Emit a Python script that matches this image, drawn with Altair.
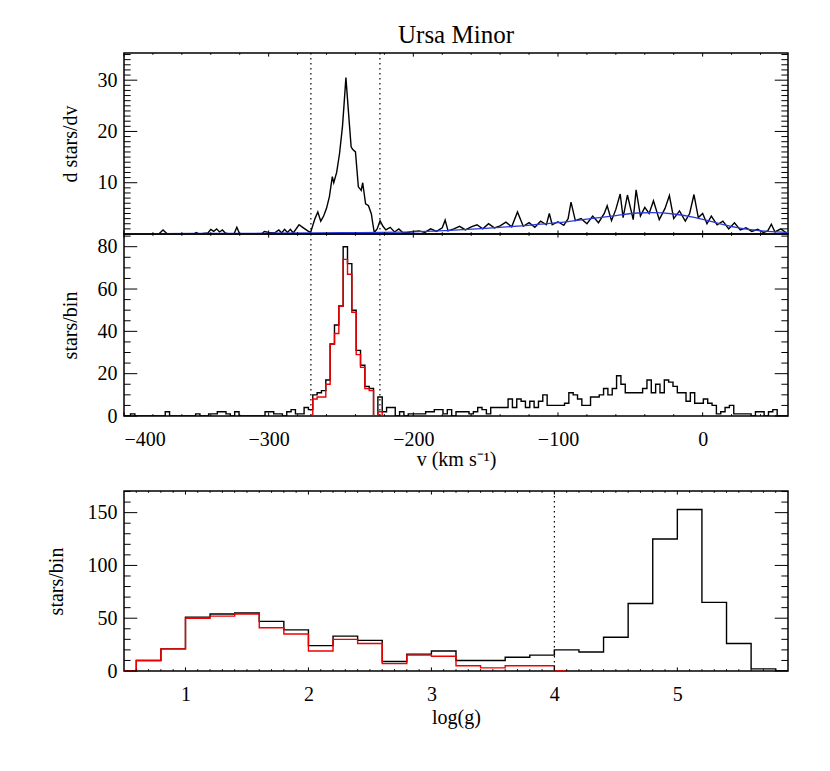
import altair as alt
import pandas as pd

FONT = "Liberation Serif"
W = 664
H_TOP = 181
H_MID = 182
H_BOT = 180
GAP = 75

# ---------------- data ----------------
# top panel: smoothed density d stars/dv, (v, value) pairs
top_pts = [(-400, 0), (-376, 0), (-373, 0.8), (-370, 0), (-352, 0), (-350, 0.3), (-348, 0),
           (-342, 0.2), (-340, 0.9), (-338, 0.5), (-336, 1.0), (-334, 0.4), (-332, 0.8),
           (-330, 0.2), (-328, 0), (-324, 0), (-322, 1.3), (-320, 0), (-305, 0), (-303, 0.5),
           (-300, 0.3), (-296, 0.2), (-293, 0.8), (-291, 0.2), (-289, 0.9), (-287, 0.3),
           (-285, 0.9), (-283, 0.2), (-279, 1.8), (-276, 1.2), (-273, 0.6), (-271, 0.3),
           (-268, 3.0), (-266, 4.3), (-264, 2.5), (-262, 3.5), (-260, 5.0), (-258, 7.3),
           (-256, 11.2), (-255, 10.0), (-253, 12.0), (-251, 15.7), (-249, 20.9), (-248, 24.8),
           (-246.6, 30.5), (-245, 24.4), (-243, 17.0), (-242, 16.5), (-240, 16.0), (-238, 9.2),
           (-236, 8.5), (-235, 10.0), (-233, 5.9), (-231, 5.5), (-229, 3.9), (-228, 2.0),
           (-227, 0.3), (-225, 1.0), (-223, 2.6), (-221, 1.5), (-219, 0.8), (-216, 1.3),
           (-213, 0.4), (-210, 1.0), (-207, 0.2), (-204, 0.3), (-200, 0.5), (-196, 0.6),
           (-192, 0.3), (-188, 1.0), (-184, 0.5), (-180, 1.2), (-178, 2.7), (-176, 0.6),
           (-172, 1.0), (-168, 1.5), (-164, 0.8), (-160, 1.4), (-156, 1.8), (-152, 1.0),
           (-148, 2.0), (-144, 1.2), (-140, 1.6), (-136, 2.3), (-132, 1.4), (-128, 4.3),
           (-124, 1.5), (-120, 2.2), (-116, 1.3), (-112, 2.5), (-108, 1.8), (-106, 4.0),
           (-104, 1.8), (-100, 2.4), (-96, 1.7), (-93, 3.0), (-91, 6.2), (-88, 2.6),
           (-84, 3.0), (-80, 2.0), (-76, 3.5), (-72, 2.2), (-68, 4.0), (-66, 5.5), (-63, 2.6),
           (-60, 4.8), (-57, 7.8), (-55, 3.2), (-52, 7.6), (-48, 2.8), (-46, 8.6), (-43, 3.5),
           (-40, 5.2), (-37, 4.0), (-34, 6.5), (-30, 2.8), (-26, 5.0), (-23, 7.5), (-20, 3.0),
           (-16, 4.5), (-12, 2.5), (-9, 4.0), (-6, 7.7), (-3, 3.2), (0, 4.0), (3, 2.0),
           (6, 3.5), (10, 1.8), (14, 2.5), (18, 1.0), (22, 2.2), (26, 0.8), (30, 1.2),
           (34, 0.5), (38, 0.9), (42, 0.3), (45, 0.6), (47.5, 1.9), (50, 0.4), (54, 1.0),
           (58, 0.2), (59, 0.3)]
bg_v = [-400, -350, -300, -250, -200, -175, -150, -125, -100, -80, -60, -45, -35, -20, -5, 5,
        15, 25, 35, 45, 59]
bg_d = [0.05, 0.1, 0.15, 0.25, 0.4, 0.7, 1.1, 1.6, 2.2, 2.9, 3.6, 4.1, 4.15, 3.9, 3.2, 2.5,
        1.8, 1.2, 0.8, 0.5, 0.3]

# middle panel: velocity histogram, bin centres every 3 km/s from -400
mid_bin_start = -400.0
mid_bin_width = 3.0
mid_all = [0, 0, 1, 0, 0, 0, 0, 0, 0, 0,    # -400 .. -373
           2, 0, 0, 0, 0, 0, 0, 1, 0, 0,    # -370 .. -343
           1, 1, 2, 2, 1, 0, 2, 0, 0, 0,    # -340 .. -313
           0, 0, 0, 2, 2, 1, 1, 0, 2, 3,    # -310 .. -283
           1, 1, 4, 3, 10, 11, 12, 17, 34, 43,   # -280 .. -253
           52, 80, 72, 50, 31, 24, 14, 13, 0, 9,  # -250 .. -223
           2, 4, 4, 0, 2, 0, 1, 1, 1, 1,    # -220 .. -193
           2, 2, 3, 3, 1, 3, 0, 2, 2, 2,    # -190 .. -163
           1, 2, 4, 3, 1, 4, 4, 4, 4, 8,    # -160 .. -133
           4, 8, 7, 4, 7, 4, 7, 10, 5, 5,   # -130 .. -103
           5, 5, 6, 11, 10, 8, 5, 5, 9, 9,  # -100 .. -73
           10, 13, 10, 13, 19, 15, 11, 11, 11, 11,  # -70 .. -43
           13, 17, 11, 15, 11, 17, 16, 14, 11, 11,  # -40 .. -13
           7, 11, 6, 6, 8, 6, 5, 1, 2, 4,   # -10 .. 17
           5, 1, 1, 1, 1, 0, 2, 2, 0, 2,    # 20 .. 47
           3, 0, 0, 0]                      # 50 .. 59
mid_sel_start = -271.0
mid_sel = [0, 8, 9, 9, 15, 34, 39, 52, 74, 67, 49, 29, 23, 13, 12, 0, 2, 0]

# bottom panel: log(g) histogram, bin centres every 0.2 from 0.5
g_centers = [0.5, 0.7, 0.9, 1.1, 1.3, 1.5, 1.7, 1.9, 2.1, 2.3, 2.5, 2.7, 2.9, 3.1, 3.3, 3.5,
             3.7, 3.9, 4.1, 4.3, 4.5, 4.7, 4.9, 5.1, 5.3, 5.5, 5.7, 5.9]
g_all = [0, 10, 21, 51, 54, 55, 47, 39, 24, 33, 29, 9, 16, 19, 10, 10,
         13, 15, 20, 18, 32, 64, 125, 153, 65, 26, 2, 0]
g_sel = [0, 10, 21, 50, 52, 54, 41, 35, 19, 30, 26, 7, 15, 14, 5, 3,
         5, 5, 0]

v_cuts = [-270.8, -223.1]
g_cut = [4.0]

# axis tick values
v_major = [-400, -300, -200, -100, 0]
v_minor = [-380, -360, -340, -320, -280, -260, -240, -220, -180, -160, -140, -120,
           -80, -60, -40, -20, 20, 40]
top_y_major = [10, 20, 30]
top_y_minor = [1, 2, 3, 4, 5, 6, 7, 8, 9, 11, 12, 13, 14, 15, 16, 17, 18, 19,
               21, 22, 23, 24, 25, 26, 27, 28, 29, 31, 32, 33, 34, 35]
mid_y_major = [0, 20, 40, 60, 80]
mid_y_minor = [5, 10, 15, 25, 30, 35, 45, 50, 55, 65, 70, 75, 85]
g_major = [1, 2, 3, 4, 5]
g_minor = [0.6, 0.7, 0.8, 0.9, 1.1, 1.2, 1.3, 1.4, 1.5, 1.6, 1.7, 1.8, 1.9,
           2.1, 2.2, 2.3, 2.4, 2.5, 2.6, 2.7, 2.8, 2.9, 3.1, 3.2, 3.3, 3.4, 3.5, 3.6, 3.7, 3.8, 3.9,
           4.1, 4.2, 4.3, 4.4, 4.5, 4.6, 4.7, 4.8, 4.9, 5.1, 5.2, 5.3, 5.4, 5.5, 5.6, 5.7, 5.8]
bot_y_major = [0, 50, 100, 150]
bot_y_minor = [10, 20, 30, 40, 60, 70, 80, 90, 110, 120, 130, 140, 160, 170]

# ---------------- scales & axes ----------------
xs_v = alt.Scale(domain=[-400, 59], nice=False, zero=False)
ys_top = alt.Scale(domain=[0, 35.3], nice=False, zero=False)
ys_mid = alt.Scale(domain=[0, 86], nice=False, zero=False)
xs_g = alt.Scale(domain=[0.5, 5.9], nice=False, zero=False)
ys_bot = alt.Scale(domain=[0, 170.5], nice=False, zero=False)

LABEL = dict(labelFont=FONT, labelFontSize=20, labelColor="black", titleFont=FONT,
             titleFontSize=20, titleFontWeight="normal", titleColor="black",
             ticks=False, domain=False, grid=False)


def yaxis(vals, title, tpad):
    return alt.Axis(values=vals, title=title, labelPadding=7, titlePadding=tpad, **LABEL)


def xaxis(vals, title, lpad, tpad):
    return alt.Axis(values=vals, title=title, labelPadding=lpad, titlePadding=tpad, **LABEL)


def tick_rules(vals, chan, scale, ax, side, length, w, h):
    df = pd.DataFrame({"t": vals})
    base = alt.Chart(df).mark_rule(color="black", strokeWidth=1)
    if chan == "x":
        pos = alt.X("t:Q", scale=scale, axis=ax)
        if side == "bottom":
            return base.encode(x=pos, y=alt.value(h), y2=alt.value(h - length))
        return base.encode(x=pos, y=alt.value(0), y2=alt.value(length))
    pos = alt.Y("t:Q", scale=scale, axis=ax)
    if side == "left":
        return base.encode(y=pos, x=alt.value(0), x2=alt.value(length))
    return base.encode(y=pos, x=alt.value(w), x2=alt.value(w - length))


def frame(xmaj, xmin, xsc, xax, ymaj, ymin, ysc, yax, w, h):
    xl = 0.02 * h
    yl = 0.02 * w
    out = []
    for side in ("bottom", "top"):
        out.append(tick_rules(xmaj, "x", xsc, xax, side, xl, w, h))
        out.append(tick_rules(xmin, "x", xsc, xax, side, xl / 2, w, h))
    for side in ("left", "right"):
        out.append(tick_rules(ymaj, "y", ysc, yax, side, yl, w, h))
        out.append(tick_rules(ymin, "y", ysc, yax, side, yl / 2, w, h))
    return out


def cut_lines(vals, scale, ax):
    return alt.Chart(pd.DataFrame({"c": vals})).mark_rule(
        color="black", strokeWidth=1.2, strokeDash=[1.5, 3.5]
    ).encode(x=alt.X("c:Q", scale=scale, axis=ax))

# ---------------- top panel ----------------
ax_top_x = None
ax_top_y = yaxis(top_y_major, "d stars/dv", 17)
df_top = pd.DataFrame(top_pts, columns=["v", "d"])
df_bg = pd.DataFrame({"v": bg_v, "d": bg_d})
top_line = alt.Chart(df_top).mark_line(color="black", strokeWidth=1.4, clip=True).encode(
    x=alt.X("v:Q", scale=xs_v, axis=ax_top_x),
    y=alt.Y("d:Q", scale=ys_top, axis=ax_top_y),
)
bg_line = alt.Chart(df_bg).mark_line(color="#2a3ad8", strokeWidth=1.3, interpolate="monotone",
                                     clip=True).encode(
    x=alt.X("v:Q", scale=xs_v, axis=ax_top_x),
    y=alt.Y("d:Q", scale=ys_top, axis=ax_top_y),
)
top = alt.layer(
    top_line, bg_line, cut_lines(v_cuts, xs_v, ax_top_x),
    *frame(v_major, v_minor, xs_v, ax_top_x, top_y_major, top_y_minor, ys_top, ax_top_y,
           W, H_TOP)
).properties(
    width=W, height=H_TOP,
    title=alt.TitleParams("Ursa Minor", font=FONT, fontSize=25, fontWeight="normal",
                          color="black", offset=4, frame="group", anchor="middle"),
)

# ---------------- middle panel ----------------
ax_mid_x = xaxis(v_major, "v (km s\u207b\u00b9)", 13, 0)
ax_mid_y = yaxis(mid_y_major, "stars/bin", 17)
mid_v = [mid_bin_start + mid_bin_width * i for i in range(len(mid_all))]
sel_v = [mid_sel_start + mid_bin_width * i for i in range(len(mid_sel))]
df_mid = pd.DataFrame({"v": mid_v, "n": mid_all})
df_sel = pd.DataFrame({"v": sel_v, "n": mid_sel})
mid_black = alt.Chart(df_mid).mark_line(color="black", strokeWidth=1.4, interpolate="step",
                                        clip=True).encode(
    x=alt.X("v:Q", scale=xs_v, axis=ax_mid_x),
    y=alt.Y("n:Q", scale=ys_mid, axis=ax_mid_y),
)
mid_red = alt.Chart(df_sel).mark_line(color="#ee0000", strokeWidth=1.4, interpolate="step",
                                      clip=True).encode(
    x=alt.X("v:Q", scale=xs_v, axis=ax_mid_x),
    y=alt.Y("n:Q", scale=ys_mid, axis=ax_mid_y),
)
mid = alt.layer(
    mid_black, mid_red, cut_lines(v_cuts, xs_v, ax_mid_x),
    *frame(v_major, v_minor, xs_v, ax_mid_x, mid_y_major, mid_y_minor, ys_mid, ax_mid_y,
           W, H_MID)
).properties(width=W, height=H_MID)

# ---------------- spacer ----------------
spacer = alt.Chart(pd.DataFrame({"a": [0]})).mark_point(opacity=0).encode(
    x=alt.X("a:Q", axis=None), y=alt.Y("a:Q", axis=None)
).properties(width=W, height=GAP, view=alt.ViewBackground(strokeOpacity=0))

# ---------------- bottom panel ----------------
ax_bot_x = xaxis(g_major, "log(g)", 13, 3)
ax_bot_y = yaxis(bot_y_major, "stars/bin", 21)
df_g = pd.DataFrame({"g": g_centers, "n": g_all})
df_gs = pd.DataFrame({"g": g_centers[:len(g_sel)], "n": g_sel})
bot_black = alt.Chart(df_g).mark_line(color="black", strokeWidth=1.4, interpolate="step",
                                      clip=True).encode(
    x=alt.X("g:Q", scale=xs_g, axis=ax_bot_x),
    y=alt.Y("n:Q", scale=ys_bot, axis=ax_bot_y),
)
bot_red = alt.Chart(df_gs).mark_line(color="#ee0000", strokeWidth=1.4, interpolate="step",
                                     clip=True).encode(
    x=alt.X("g:Q", scale=xs_g, axis=ax_bot_x),
    y=alt.Y("n:Q", scale=ys_bot, axis=ax_bot_y),
)
bot = alt.layer(
    bot_black, bot_red, cut_lines(g_cut, xs_g, ax_bot_x),
    *frame(g_major, g_minor, xs_g, ax_bot_x, bot_y_major, bot_y_minor, ys_bot, ax_bot_y,
           W, H_BOT)
).properties(width=W, height=H_BOT)

chart = alt.vconcat(top, mid, spacer, bot, spacing=0, bounds="flush").properties(
    padding={"left": 37, "top": 14, "right": 5, "bottom": 5}, background="white"
).configure_view(stroke="black", strokeWidth=1.5).configure_axis(
    labelFont=FONT, titleFont=FONT, labelFontSize=20, titleFontSize=20,
    titleFontWeight="normal", labelColor="black", titleColor="black"
).configure_title(font=FONT)

chart.save("out.html", embed_options={"renderer": "svg", "actions": False})
